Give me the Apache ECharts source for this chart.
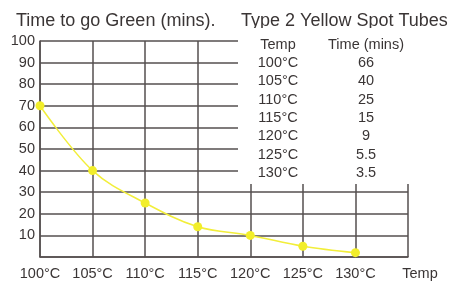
<!DOCTYPE html>
<html><head><meta charset="utf-8">
<script src="https://cdn.jsdelivr.net/npm/echarts@6/dist/echarts.min.js"></script>
<style>html,body{margin:0;padding:0;background:#fff}#c{width:452px;height:284px}</style>
</head><body><div id="c"></div>
<script>
var categories = ['100°C','105°C','110°C','115°C','120°C','125°C','130°C'];
var plotValues = [70, 40, 25, 14, 10, 5, 2];
var tableTemps = ['100°C','105°C','110°C','115°C','120°C','125°C','130°C'];
var tableTimes = ['66','40','25','15','9','5.5','3.5'];
var yTicks = [0,10,20,30,40,50,60,70,80,90,100];

var FONT = '"Liberation Sans", Arial, sans-serif';
var TXT = '#3a3535';
var FS = 14.5;
var chart = echarts.init(document.getElementById('c'), null, {renderer:'canvas'});

var graphics = [
  {type:'rect', shape:{x:238, y:28, width:214, height:156}, style:{fill:'#fff'}, z:50},
  {type:'text', x:278, y:45, style:{text:'Temp', font:FS+'px '+FONT, fill:TXT, align:'center', verticalAlign:'middle'}, z:60},
  {type:'text', x:366, y:45, style:{text:'Time (mins)', font:FS+'px '+FONT, fill:TXT, align:'center', verticalAlign:'middle'}, z:60},
  {type:'text', x:420, y:274, style:{text:'Temp', font:FS+'px '+FONT, fill:TXT, align:'center', verticalAlign:'middle'}, z:60}
];
for (var i=0;i<tableTemps.length;i++){
  var yy = 63 + i*18.3;
  graphics.push({type:'text', x:278, y:yy, style:{text:tableTemps[i], font:FS+'px '+FONT, fill:TXT, align:'center', verticalAlign:'middle'}, z:60});
  graphics.push({type:'text', x:366, y:yy, style:{text:tableTimes[i], font:FS+'px '+FONT, fill:TXT, align:'center', verticalAlign:'middle'}, z:60});
}

chart.setOption({
  animation:false,
  backgroundColor:'#fff',
  title:[
    {text:'Time to go Green (mins).', left:11, top:7, textStyle:{fontFamily:FONT, fontSize:18, fontWeight:'normal', color:TXT}},
    {text:'Type 2 Yellow Spot Tubes', left:236, top:7, textStyle:{fontFamily:FONT, fontSize:18, fontWeight:'normal', color:TXT}}
  ],
  grid:{left:40, right:44, top:41, bottom:27},
  xAxis:{
    type:'category', boundaryGap:false, data:categories.concat(['']),
    axisLine:{show:true, lineStyle:{color:'#554f4f', width:1.5}},
    axisTick:{show:false},
    axisLabel:{fontFamily:FONT, fontSize:FS, color:TXT, margin:9, interval:0},
    splitLine:{show:true, lineStyle:{color:'#554f4f', width:1.5}}
  },
  yAxis:{
    type:'value', min:0, max:100, interval:10,
    axisLine:{show:true, lineStyle:{color:'#554f4f', width:1.5}},
    axisTick:{show:false},
    axisLabel:{fontFamily:FONT, fontSize:FS, color:TXT, margin:5, formatter:function(v){return v===0?'':String(v);}},
    splitLine:{show:true, lineStyle:{color:'#554f4f', width:1.5}}
  },
  graphic:graphics,
  series:[{
    type:'line', data:plotValues, smooth:0.35, z:30,
    symbol:'circle', symbolSize:9,
    lineStyle:{color:'#f2ee3a', width:1.5},
    itemStyle:{color:'#f2ee2a'}
  }]
});
</script></body></html>
